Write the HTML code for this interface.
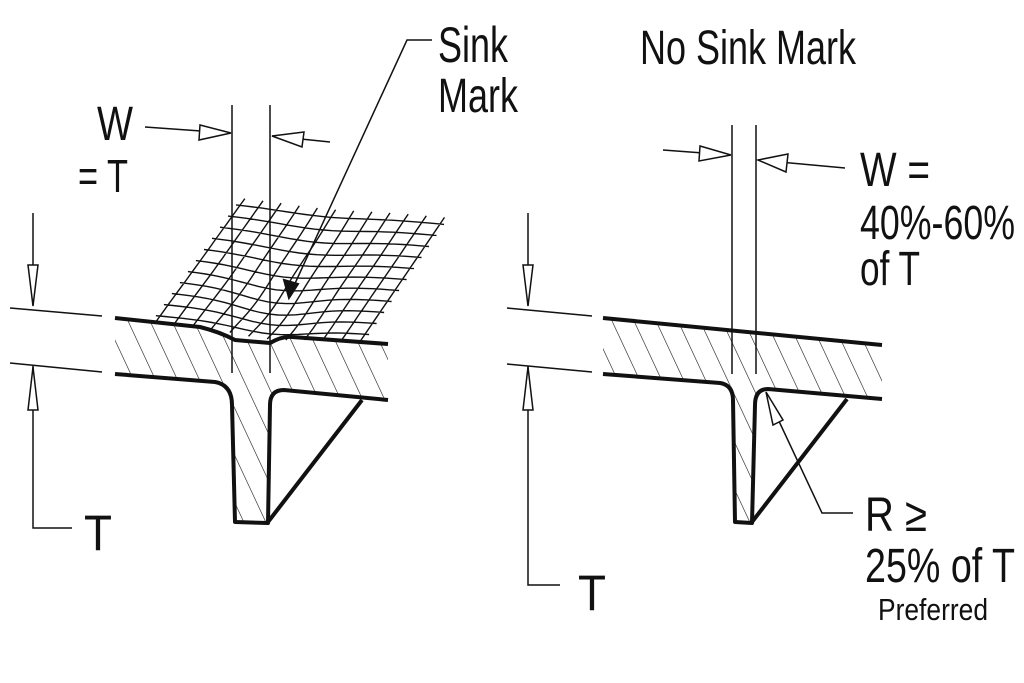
<!DOCTYPE html>
<html><head><meta charset="utf-8"><style>
html,body{margin:0;padding:0;background:#fff}
svg{display:block}
text{font-family:"Liberation Sans",sans-serif;fill:#111}
</style></head><body>
<svg id="s" width="1024" height="683" viewBox="0 0 1024 683" xmlns="http://www.w3.org/2000/svg">
<defs>
<pattern id="h" patternUnits="userSpaceOnUse" width="22" height="46" patternTransform="skewX(25)">
<line x1="0" y1="0" x2="0" y2="46" stroke="#111" stroke-width="1.3"/>
</pattern>
<clipPath id="cl"><path d="M115,318 L200,327 Q220,332 235,340 L270,343 Q282,336 292,337 L388,344 L388,400 L280,390 Q270,392 270,405 L268,523 L235,522 L232,405 Q230,386 215,382 L115,374 Z"/></clipPath>
<clipPath id="cr"><path d="M603,318 L882,345 L882,399 L765,389 Q755,392 755,405 L752,523 L735,523 L733,400 Q731,385 720,383 L603,374 Z"/></clipPath>
</defs>
<rect width="1024" height="683" fill="#fff"/>
<g clip-path="url(#cl)"><rect x="100" y="300" width="300" height="240" fill="url(#h)"/></g>
<g clip-path="url(#cr)"><rect x="590" y="300" width="300" height="240" fill="url(#h)"/></g>
<g id="mesh" stroke="#111" stroke-width="1.4" fill="none"></g>
<g fill="none" stroke="#111" stroke-width="1.5">
<path d="M10,308 L102,316 M10,363 L102,372"/>
<path d="M232,105 V373 M270,105 V373"/>
<path d="M33,213 V305 M33,366 V528 H72"/>
<path d="M145,127 L229,133 M330,142 L272,136"/>
<path d="M432,40 H407 L292,290"/>
<path d="M507,308 L592,316 M507,364 L592,372"/>
<path d="M732,125 V374 M756,125 V374"/>
<path d="M528,213 V305 M528,366 V585 H560"/>
<path d="M663,150 L730,155 M845,168 L758,160"/>
<path d="M853,513 H822 L770,402"/>
</g>
<g fill="none" stroke="#111" stroke-width="4" stroke-linejoin="round">
<path d="M115,318 L200,327 Q220,332 235,340 L270,343 Q282,336 292,337 L388,344"/>
<path d="M115,374 L215,382 Q232,385 232,405 L235,522 L268,523 L270,405 Q270,390 284,390 L388,400"/>
<path d="M268,522 L362,400"/>
<path d="M603,318 L882,345"/>
<path d="M603,374 L720,383 Q733,385 733,400 L735,522 L752,523 L755,405 Q755,389 768,389 L882,399"/>
<path d="M752,522 L847,399"/>
</g>
<g fill="#fff" stroke="#111" stroke-width="1.5">
<path d="M28,265 L38,265 L33,306 Z"/>
<path d="M28,410 L38,410 L33,367 Z"/>
<path d="M200,125 L231,133 L199,140 Z"/>
<path d="M304,132 L272,136 L302,147 Z"/>
<path d="M523,265 L533,265 L528,306 Z"/>
<path d="M523,410 L533,410 L528,367 Z"/>
<path d="M700,146 L731,155 L699,161 Z"/>
<path d="M788,154 L758,160 L786,172 Z"/>
<path d="M766,392 L783,420 L773,425 Z"/>
</g>
<path d="M289,298 L284,280 L298,284 Z" fill="#111" stroke="#111" stroke-width="2"/>
<text x="97" y="140" font-size="48" textLength="36" lengthAdjust="spacingAndGlyphs">W</text>
<text x="78" y="192" font-size="46" textLength="50" lengthAdjust="spacingAndGlyphs">= T</text>
<text x="438" y="62" font-size="50" textLength="70" lengthAdjust="spacingAndGlyphs">Sink</text>
<text x="438" y="112" font-size="48" textLength="80" lengthAdjust="spacingAndGlyphs">Mark</text>
<text x="84" y="550" font-size="50" textLength="28" lengthAdjust="spacingAndGlyphs">T</text>
<text x="640" y="64" font-size="48" textLength="216" lengthAdjust="spacingAndGlyphs">No Sink Mark</text>
<text x="860" y="186" font-size="48" textLength="70" lengthAdjust="spacingAndGlyphs">W =</text>
<text x="860" y="239" font-size="48" textLength="155" lengthAdjust="spacingAndGlyphs">40%-60%</text>
<text x="860" y="285" font-size="48" textLength="60" lengthAdjust="spacingAndGlyphs">of T</text>
<text x="865" y="531" font-size="48" textLength="62" lengthAdjust="spacingAndGlyphs">R ≥</text>
<text x="865" y="582" font-size="48" textLength="150" lengthAdjust="spacingAndGlyphs">25% of T</text>
<text x="878" y="620" font-size="31" textLength="110" lengthAdjust="spacingAndGlyphs">Preferred</text>
<text x="578" y="610" font-size="50" textLength="28" lengthAdjust="spacingAndGlyphs">T</text>
</svg>
<script>
(function(){
var g=document.getElementById('mesh');
var TL=[240,205],TR=[440,224],BL=[160,316],BR=[365,334];
function P(u,v){
 var x=(1-u)*(1-v)*TL[0]+u*(1-v)*TR[0]+(1-u)*v*BL[0]+u*v*BR[0];
 var y=(1-u)*(1-v)*TL[1]+u*(1-v)*TR[1]+(1-u)*v*BL[1]+u*v*BR[1];
 var d=12*Math.exp(-((x-275)*(x-275)/2500+(y-300)*(y-300)/1800));
 d+=6*Math.exp(-((x-320)*(x-320)/3000+(y-240)*(y-240)/1500));
 return [x,y+d];
}
var s='',R=10,C=11,i,j,k,p;
for(i=0;i<=R;i++){var v=i/R;s+='M';for(k=0;k<=24;k++){p=P(-0.02+k/24*1.04,v);s+=(k?' L':'')+p[0].toFixed(1)+','+p[1].toFixed(1);}}
for(j=0;j<=C;j++){var u=j/C;s+=' M';for(k=0;k<=20;k++){p=P(u,-0.06+k/20*1.12);s+=(k?' L':'')+p[0].toFixed(1)+','+p[1].toFixed(1);}}
var e=document.createElementNS('http://www.w3.org/2000/svg','path');e.setAttribute('d',s);g.appendChild(e);
})();
</script>
</body></html>
